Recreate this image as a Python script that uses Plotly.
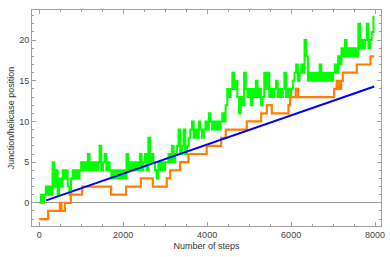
import plotly.graph_objects as go

# ---- data ----
# orange: junction position (step changes)
orange_x = [0, 214, 493, 531, 612, 754, 1024, 1714, 2071, 2421, 2707, 3040, 3119, 3357, 3555,
            3990, 4333, 4444, 4944, 5286, 5421, 5540, 5937, 5976, 6111, 6167, 7024, 7087, 7140,
            7190, 7230, 7563, 7890, 7980]
orange_y = [-2, -1, 0, -1, 0, 1, 2, 1, 2, 3, 2, 3, 4, 5, 6,
            7, 8, 9, 10, 11, 12, 11, 12, 13, 14, 13, 14, 15, 14,
            15, 16, 17, 18, 18]

# green: helicase position, sampled every 40 steps
green_step = 40
green_y = [
    # 0 - 960
    0, 1, 0, 1, 2, 1, 2, 1, 5, 2, 4, 1, 3, 2, 4, 3, 4, 2, 1, 3, 4, 3, 4, 3, 4,
    # 1000 - 1960
    5, 4, 5, 4, 6, 4, 5, 4, 5, 4, 5, 7, 4, 5, 6, 4, 5, 4, 3, 4, 3, 4, 3, 4, 3,
    # 2000 - 2960
    4, 3, 6, 4, 5, 4, 5, 4, 5, 4, 6, 4, 5, 6, 4, 8, 5, 6, 5, 4, 3, 5, 4, 5, 4,
    # 3000 - 3960
    5, 5, 6, 5, 7, 5, 6, 7, 9, 6, 7, 9, 6, 7, 8, 9, 10, 8, 9, 8, 10, 9, 8, 9, 10,
    # 4000 - 4960
    9, 11, 10, 9, 10, 9, 10, 9, 10, 11, 10, 12, 14, 13, 14, 16, 14, 15, 13, 11, 13, 12, 16, 14, 13,
    # 5000 - 5960
    14, 12, 14, 13, 15, 13, 14, 12, 13, 16, 14, 16, 13, 14, 13, 14, 15, 13, 14, 13, 14, 16, 13, 14, 13,
    # 6000 - 6960
    14, 15, 16, 17, 15, 16, 17, 16, 20, 18, 15, 16, 15, 16, 15, 16, 15, 17, 15, 16, 15, 16, 15, 16, 15,
    # 7000 - 7960
    16, 17, 16, 18, 17, 19, 18, 20, 18, 19, 18, 19, 18, 19, 18, 22, 19, 20, 19, 20, 22, 19, 20, 21, 23,
]
green_x = [i * green_step for i in range(len(green_y))]

# blue: linear trend
blue_x = [170, 7980]
blue_y = [0.3, 14.3]

x_ticks = [0, 2000, 4000, 6000, 8000]
y_ticks = [0, 5, 10, 15, 20]

fig = go.Figure()
fig.add_trace(go.Scatter(x=green_x, y=green_y, mode="lines", line_shape="hv",
                         line=dict(color="#00FF00", width=2), showlegend=False))
fig.add_trace(go.Scatter(x=orange_x, y=orange_y, mode="lines", line_shape="hv",
                         line=dict(color="#FF8000", width=2.2), showlegend=False))
fig.add_trace(go.Scatter(x=blue_x, y=blue_y, mode="lines",
                         line=dict(color="#0000FF", width=2), showlegend=False))

frame = "#a0a0a0"
fig.update_layout(
    width=390, height=257,
    margin=dict(l=32, r=9, t=10, b=31),
    paper_bgcolor="white", plot_bgcolor="white",
    font=dict(family="Liberation Sans, Arial, sans-serif", size=9, color="#444"),
    xaxis=dict(range=[-170, 8140], tickvals=x_ticks, ticks="inside", ticklen=4,
               tickcolor=frame, showline=True, linecolor=frame, linewidth=1,
               mirror="allticks", showgrid=False, zeroline=False, automargin=False,
               minor=dict(dtick=500, tick0=0, ticks="inside", ticklen=2, tickcolor=frame, showgrid=False),
               title=dict(text="Number of steps", standoff=3, font=dict(size=9, color="#333"))),
    yaxis=dict(range=[-2.85, 23.7], tickvals=y_ticks, ticks="inside", ticklen=4,
               tickcolor=frame, showline=True, linecolor=frame, linewidth=1,
               mirror="allticks", showgrid=False, zeroline=True, automargin=False,
               zerolinecolor="#999999", zerolinewidth=1,
               minor=dict(dtick=1, tick0=0, ticks="inside", ticklen=2, tickcolor=frame, showgrid=False),
               title=dict(text="Junction/helicase position", standoff=3, font=dict(size=9, color="#333"))),
)

fig.write_html("out.html", config={"displayModeBar": False},
               post_script="document.body.style.margin='0';")
